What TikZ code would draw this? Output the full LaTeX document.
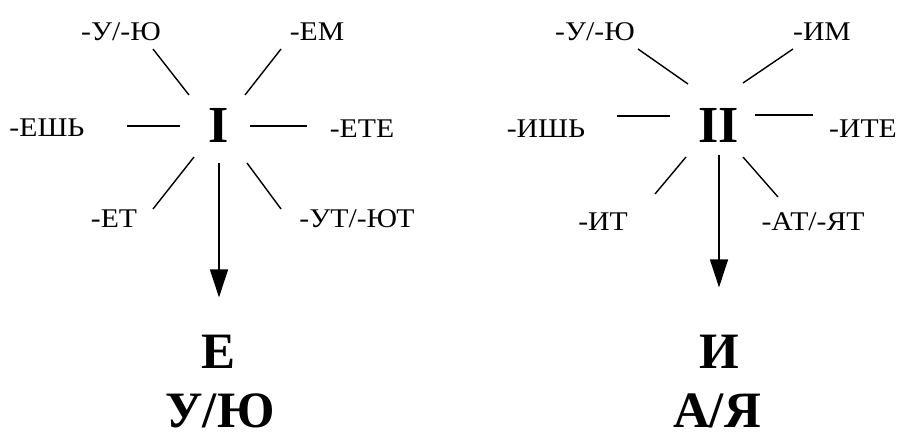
\documentclass[tikz,border=0pt]{standalone}
\usepackage{fontspec}
\setmainfont{Liberation Serif}
\newfontfamily\endingfont[FakeStretch=1.1]{Liberation Serif}
\usetikzlibrary{arrows.meta}
\tikzset{
  ending/.style={font=\endingfont\fontsize{27}{27}\selectfont, inner sep=0pt, anchor=base},
  conj/.style={font=\fontsize{52}{52}\selectfont\bfseries, inner sep=0pt, anchor=base},
  vowel/.style={font=\fontsize{51}{51}\selectfont\bfseries, inner sep=0pt, anchor=base},
  spoke/.style={line width=1.4pt},
  down/.style={line width=1.4pt, -{Triangle[width=18pt,length=28pt]}}
}
\begin{document}
\begin{tikzpicture}[x=1pt,y=-1pt]
    \useasboundingbox (0,0) rectangle (903,439);
    % first conjugation
    \node[conj] (I) at (219,142) {I};
    \node[ending] (Iu) at (121,40) {-У/-Ю};
    \node[ending] (Iem) at (317,40) {-ЕМ};
    \node[ending] (Iesh) at (47,136) {-ЕШЬ};
    \node[ending] (Iete) at (362,137) {-ЕТЕ};
    \node[ending] (Iet) at (114,227) {-ЕТ};
    \node[ending] (Iut) at (357,227) {-УТ/-ЮТ};
    \foreach \xa/\ya/\xb/\yb in {153/49/189/95, 281/49/245/95, 127/126/180/126,
                                 250/126/307/126, 194/157/153/209, 247/163/281/209}
        \draw[spoke] (\xa,\ya) -- (\xb,\yb);
    \node[vowel] (E) at (219,368) {Е};
    \node[vowel] (UJu) at (220,427) {У/Ю};
    \draw[down, shorten <=21pt, shorten >=37pt] (I.south) -- (E.north);
    % second conjugation
    \node[conj] (II) at (719,142) {II};
    \node[ending] (IIu) at (595,40) {-У/-Ю};
    \node[ending] (IIim) at (822,40) {-ИМ};
    \node[ending] (IIish) at (546,137) {-ИШЬ};
    \node[ending] (IIite) at (863,137) {-ИТЕ};
    \node[ending] (IIit) at (603,230) {-ИТ};
    \node[ending] (IIat) at (813,230) {-АТ/-ЯТ};
    \foreach \xa/\ya/\xb/\yb in {638/49/688/84, 793/49/743/83, 617/116/670/116,
                                 755/115/813/115, 686/157/655/194, 743/157/778/197}
        \draw[spoke] (\xa,\ya) -- (\xb,\yb);
    \node[vowel] (Ii) at (719,368) {И};
    \node[vowel] (AJa) at (717,427) {А/Я};
    \draw[down, shorten <=13pt, shorten >=47pt] (II.south) -- (Ii.north);
\end{tikzpicture}
\end{document}
